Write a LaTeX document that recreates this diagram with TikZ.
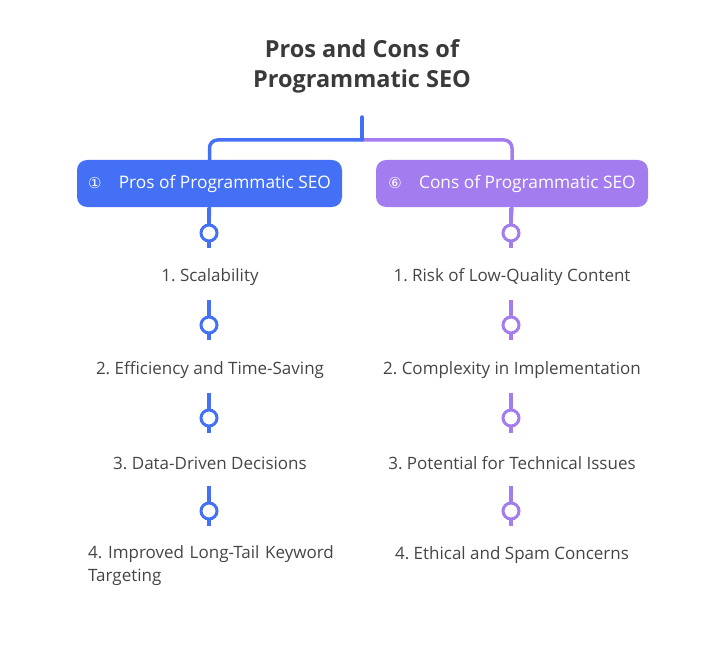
\documentclass[tikz,border=0pt]{standalone}
\usepackage{fontspec}
\setmainfont{Open Sans}
\newfontfamily\symfont{DejaVu Sans}
\usetikzlibrary{positioning}
\definecolor{prosblue}{HTML}{4470F5}
\definecolor{conspurple}{HTML}{A37CF0}
\definecolor{inktext}{HTML}{454545}
\definecolor{titlegrey}{HTML}{3A3A3A}
\frenchspacing

\begin{document}
\begin{tikzpicture}[x=1pt, y=-1pt,
  headbox/.style={rounded corners=10pt, inner sep=0pt, minimum height=47pt, text=white,
    font=\fontsize{17.3}{20}\selectfont},
  knob/.style={circle, fill=white, line width=3pt, minimum size=16pt, inner sep=0pt},
  stem/.style={line width=3.5pt},
  itemtext/.style={text=inktext, inner sep=0pt, font=\fontsize{17}{23}\selectfont}]
  \useasboundingbox (0,0) rectangle (724,661);
  % title
  \node[text=titlegrey, align=center, font=\fontsize{23.5}{30}\selectfont\bfseries] (title) at (362,66)
    {Pros and Cons of\\Programmatic SEO};
  % headers
  \node[headbox, fill=prosblue, minimum width=265pt] (pros) at (209.5,183.5)
    {{\symfont\fontsize{15}{15}\selectfont ①}\quad Pros of Programmatic SEO};
  \node[headbox, fill=conspurple, minimum width=272pt] (cons) at (512,183.5)
    {{\symfont\fontsize{15}{15}\selectfont ⑥}\quad Cons of Programmatic SEO};
  % bracket
  \coordinate (root) at (362,117);
  \coordinate (fork) at (362,140);
  \draw[stem, prosblue, rounded corners=8pt] (fork) -| (pros.north);
  \draw[stem, conspurple, rounded corners=8pt] (fork) -| (cons.north);
  \draw[stem, prosblue, line cap=round] (root) -- (fork);
  % knobs and stems
  \foreach \k/\y in {1/233, 2/325, 3/418, 4/511} {
    \coordinate (pt\k) at (209,\y-25);
    \coordinate (pb\k) at (209,\y+15);
    \coordinate (ct\k) at (511,\y-25);
    \coordinate (cb\k) at (511,\y+15);
    \draw[stem, prosblue] (pt\k) -- (pb\k);
    \draw[stem, conspurple] (ct\k) -- (cb\k);
    \node[knob, draw=prosblue] (pk\k) at (209,\y) {};
    \node[knob, draw=conspurple] (ck\k) at (511,\y) {};
  }
  \draw[stem, prosblue] (pros.south) -- (pk1.north);
  \draw[stem, conspurple] (cons.south) -- (ck1.north);
  % pros items
  \node[itemtext] (pro1) at (210,277) {1. Scalability};
  \node[itemtext] (pro2) at (210,370) {2. Efficiency and Time-Saving};
  \node[itemtext] (pro3) at (210,463) {3. Data-Driven Decisions};
  \node[itemtext, anchor=north west, text width=260pt, align=left] (pro4) at (88,545)
    {4. Improved Long-Tail Keyword Targeting};
  % cons items
  \node[itemtext] (con1) at (512,277) {1. Risk of Low-Quality Content};
  \node[itemtext] (con2) at (512,370) {2. Complexity in Implementation};
  \node[itemtext] (con3) at (512,463) {3. Potential for Technical Issues};
  \node[itemtext] (con4) at (512,555) {4. Ethical and Spam Concerns};
\end{tikzpicture}
\end{document}
